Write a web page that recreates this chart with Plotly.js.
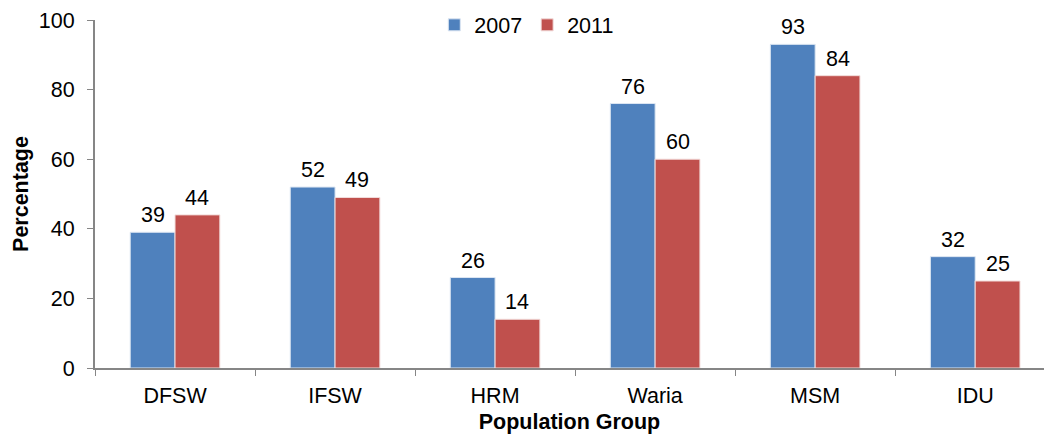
<!DOCTYPE html>
<html>
<head>
<meta charset="utf-8">
<script src="https://cdn.plot.ly/plotly-3.0.1.min.js"></script>
<style>html,body{margin:0;padding:0;background:#fff;}#chart{width:1044px;height:434px;}</style>
</head>
<body>
<div id="chart"></div>
<script>
const categories = ["DFSW", "IFSW", "HRM", "Waria", "MSM", "IDU"];
const values2007 = [39, 52, 26, 76, 93, 32];
const values2011 = [44, 49, 14, 60, 84, 25];
const seriesNames = ["2007", "2011"];
const yTicks = [0, 20, 40, 60, 80, 100];

const font = "Liberation Sans, Arial, sans-serif";
const fs = 21.5;
const colors = ["#4F81BD", "#C0504D"];
const borders = ["#dce6f2", "#f2dcdb"];
const seriesValues = [values2007, values2011];

const traces = seriesValues.map((vals, i) => ({
  type: "bar", name: seriesNames[i], x: categories, y: vals,
  marker: {color: colors[i], line: {color: borders[i], width: 1}}
}));

// value labels above each bar (offset left/right to sit over its bar in the group)
const annotations = [];
seriesValues.forEach((vals, i) => {
  vals.forEach((v, j) => {
    annotations.push({
      x: categories[j], y: v, xref: "x", yref: "y",
      text: String(v), showarrow: false,
      xshift: i === 0 ? -22.4 : 22.4, yshift: 3,
      xanchor: "center", yanchor: "bottom",
      font: {family: font, size: fs, color: "#000"}
    });
  });
});

const layout = {
  width: 1044, height: 434,
  margin: {l: 95, r: 0, t: 20, b: 66},
  paper_bgcolor: "#fff", plot_bgcolor: "#fff",
  font: {family: font, size: fs, color: "#000"},
  barmode: "group", bargap: 0.44, bargroupgap: 0,
  showlegend: true,
  legend: {orientation: "h", x: 0.455, xanchor: "center", y: 0.986, yanchor: "middle",
           font: {family: font, size: fs}, bgcolor: "rgba(0,0,0,0)", itemwidth: 30},
  annotations: annotations,
  xaxis: {
    type: "category", range: [-0.5, 5.43],
    showline: true, linecolor: "#868686", linewidth: 2,
    ticks: "outside", tickson: "boundaries", ticklen: 6, tickcolor: "#868686", tickwidth: 1,
    ticklabelstandoff: 7,
    tickfont: {family: font, size: fs},
    showgrid: false, zeroline: false,
    title: {text: "<b>Population Group</b>", font: {family: font, size: fs}, standoff: 7}
  },
  yaxis: {
    range: [0, 100], tickvals: yTicks,
    showline: true, linecolor: "#868686", linewidth: 2,
    ticks: "outside", ticklen: 6, tickcolor: "#868686", tickwidth: 1,
    ticklabelstandoff: 8,
    tickfont: {family: font, size: fs},
    showgrid: false, zeroline: false,
    title: {text: "<b>Percentage</b>", font: {family: font, size: fs}, standoff: 4}
  }
};

Plotly.newPlot("chart", traces, layout, {displayModeBar: false, staticPlot: true});
</script>
</body>
</html>
